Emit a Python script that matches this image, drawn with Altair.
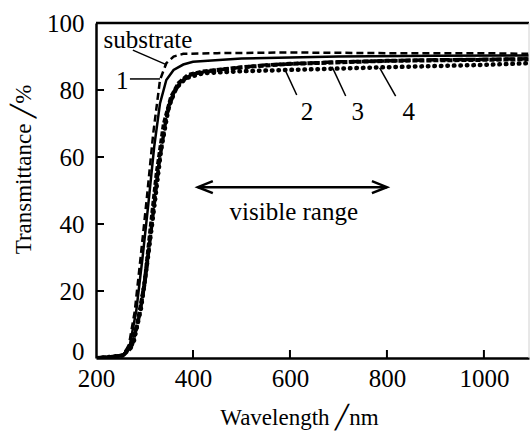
import altair as alt
import pandas as pd

# ---- data -------------------------------------------------------------
wl_sub = [200, 230, 256, 268, 280, 292, 305, 318, 332, 345, 360, 380, 450, 600, 800, 1000, 1095]
t_sub = [0, 0.3, 0.8, 4, 14, 30, 48, 67, 83, 88, 90, 90.8, 91, 91.2, 91, 91, 90.8]

wl_1 = [200, 230, 256, 270, 283, 296, 308, 320, 332, 345, 360, 380, 400, 500, 700, 900, 1095]
t_1 = [0, 0.3, 0.8, 4, 14, 30, 46, 63, 76, 83, 86, 87.6, 88.4, 89.4, 90, 90.2, 90.3]

wl_2 = [200, 230, 256, 272, 285, 300, 312, 325, 340, 355, 370, 390, 420, 500, 600, 800, 1000, 1095]
t_2 = [0, 0.3, 0.8, 3, 10, 22, 38, 55, 70, 78, 82, 84.5, 85.5, 86.8, 87.8, 88.7, 89, 89.2]

wl_3 = [200, 230, 256, 275, 290, 303, 316, 330, 345, 360, 375, 400, 450, 550, 700, 900, 1095]
t_3 = [0, 0.3, 0.8, 4, 13, 25, 41, 58, 72, 79, 82.5, 84.8, 86, 87.5, 88.4, 89, 89.3]

wl_4 = [200, 230, 256, 278, 293, 307, 320, 334, 350, 365, 385, 420, 500, 600, 800, 1000, 1095]
t_4 = [0, 0.3, 0.8, 5, 15, 30, 45, 62, 75, 80.5, 83.5, 85, 85.6, 86, 86.8, 87.5, 88]

series_names = ["substrate", "1", "2", "3", "4"]
series_wl = [wl_sub, wl_1, wl_2, wl_3, wl_4]
series_t = [t_sub, t_1, t_2, t_3, t_4]

x_ticks = [200, 400, 600, 800, 1000]
y_ticks = [0, 20, 40, 60, 80, 100]
x_inner_ticks = [400, 600, 800, 1000]
y_inner_ticks = [20, 40, 60, 80]

# annotation labels
label_text = ["substrate", "1", "2", "3", "4"]
label_x = [307, 254, 635, 740, 845]
label_y = [95, 82.7, 73.4, 73.4, 73.4]

# leader lines
lead_x = [276, 270, 590, 687, 785]
lead_y = [91.9, 83.3, 86.0, 86.9, 86.6]
lead_x2 = [346, 332, 614, 715, 818]
lead_y2 = [87.5, 83.3, 78.5, 78.2, 78.2]

# visible range arrow
arrow_x = [410]
arrow_x2 = [800]
arrow_y = [51]
range_text = ["visible range"]
range_x = [608]
range_y = [43.5]

X_DOMAIN = [200, 1093]
W, H = 433, 335
FONT = "Liberation Serif"

# ---- tables -------------------------------------------------------------
rows = []
for name, xs_, ys_ in zip(series_names, series_wl, series_t):
    for i, (a, b) in enumerate(zip(xs_, ys_)):
        rows.append({"series": name, "wl": a, "T": b, "order": i})
df = pd.DataFrame(rows)

xs = alt.Scale(domain=X_DOMAIN, nice=False, zero=False)
ys = alt.Scale(domain=[0, 100], nice=False, zero=False)

styles = {
    "substrate": dict(strokeDash=[7, 4], strokeWidth=2.5),
    "1": dict(strokeWidth=2.5),
    "2": dict(strokeDash=[5, 2], strokeWidth=4),
    "3": dict(strokeDash=[10, 3], strokeWidth=3.5),
    "4": dict(strokeDash=[0.5, 6], strokeWidth=4.5, strokeCap="round"),
}

base = alt.Chart(df)
layers = []

axes = alt.Chart(pd.DataFrame({"wl": [200], "T": [0]})).mark_point(opacity=0).encode(
    x=alt.X("wl:Q", scale=xs, title="Wavelength ╱nm",
            axis=alt.Axis(values=x_ticks, format="d", ticks=False, tickSize=0, grid=False,
                          labelPadding=8, labelFontSize=25, labelFont=FONT,
                          labelColor="black", domainColor="black", domainWidth=2.5,
                          titleFont=FONT, titleFontSize=23, titleFontWeight="normal",
                          titleColor="black", titleX=203, titleY=66,
                          titleBaseline="alphabetic", labelFlush=False)),
    y=alt.Y("T:Q", scale=ys, title="Transmittance ╱%",
            axis=alt.Axis(values=y_ticks, format="d", ticks=False, tickSize=0, grid=False,
                          labelPadding=12, labelFontSize=25, labelFont=FONT,
                          labelOffset={"condition": {"test": "datum.value == 0", "value": -7}, "value": 0},
                          labelColor="black", domainColor="black", domainWidth=2.5,
                          titleFont=FONT, titleFontSize=23, titleFontWeight="normal",
                          titleColor="black", titleX=-66, titleY=146,
                          titleBaseline="alphabetic", labelFlush=False)),
)
layers.append(axes)

for name in series_names:
    layers.append(
        base.transform_filter(alt.datum.series == name)
        .mark_line(color="black", clip=True, **styles[name])
        .encode(x=alt.X("wl:Q", scale=xs), y=alt.Y("T:Q", scale=ys), order="order:Q")
    )

# frame: top border and faint right border
layers.append(
    alt.Chart(pd.DataFrame({"T": [100]})).mark_rule(color="black", strokeWidth=2.5)
    .encode(y=alt.Y("T:Q", scale=ys), x=alt.value(0), x2=alt.value(W))
)
layers.append(
    alt.Chart(pd.DataFrame({"wl": [X_DOMAIN[1]]})).mark_rule(color="#d0d0d0", strokeWidth=1)
    .encode(x=alt.X("wl:Q", scale=xs), y=alt.value(0), y2=alt.value(H))
)

# inward ticks
layers.append(
    alt.Chart(pd.DataFrame({"wl": x_inner_ticks})).mark_rule(color="black", strokeWidth=2)
    .encode(x=alt.X("wl:Q", scale=xs), y=alt.value(H - 8), y2=alt.value(H))
)
layers.append(
    alt.Chart(pd.DataFrame({"T": y_inner_ticks})).mark_rule(color="black", strokeWidth=2)
    .encode(y=alt.Y("T:Q", scale=ys), x=alt.value(0), x2=alt.value(8))
)

# leader lines
lead_df = pd.DataFrame({"x": lead_x, "y": lead_y, "x2": lead_x2, "y2": lead_y2})
layers.append(
    alt.Chart(lead_df).mark_rule(color="black", strokeWidth=1.5)
    .encode(x=alt.X("x:Q", scale=xs), y=alt.Y("y:Q", scale=ys), x2="x2:Q", y2="y2:Q")
)

# labels
lab_df = pd.DataFrame({"text": label_text, "x": label_x, "y": label_y})
layers.append(
    alt.Chart(lab_df).mark_text(font=FONT, fontSize=25, color="black", align="center", baseline="middle")
    .encode(x=alt.X("x:Q", scale=xs), y=alt.Y("y:Q", scale=ys), text="text:N")
)

# visible range arrow
arr_df = pd.DataFrame({"x": arrow_x, "x2": arrow_x2, "y": arrow_y})
layers.append(
    alt.Chart(arr_df).mark_rule(color="black", strokeWidth=2.5)
    .encode(x=alt.X("x:Q", scale=xs), x2="x2:Q", y=alt.Y("y:Q", scale=ys))
)
layers.append(
    alt.Chart(arr_df).mark_point(shape="M1,-0.8L-1,0L1,0.8", size=225, filled=False,
                                 color="black", strokeWidth=2.5, xOffset=7.5, opacity=1)
    .encode(x=alt.X("x:Q", scale=xs), y=alt.Y("y:Q", scale=ys))
)
layers.append(
    alt.Chart(arr_df).mark_point(shape="M-1,-0.8L1,0L-1,0.8", size=225, filled=False,
                                 color="black", strokeWidth=2.5, xOffset=-7.5, opacity=1)
    .encode(x=alt.X("x2:Q", scale=xs), y=alt.Y("y:Q", scale=ys))
)
rt_df = pd.DataFrame({"text": range_text, "x": range_x, "y": range_y})
layers.append(
    alt.Chart(rt_df).mark_text(font=FONT, fontSize=25, color="black", align="center", baseline="middle")
    .encode(x=alt.X("x:Q", scale=xs), y=alt.Y("y:Q", scale=ys), text="text:N")
)

chart = (
    alt.layer(*layers)
    .properties(width=W, height=H, autosize=alt.AutoSizeParams(type="none"),
                padding={"left": 96, "top": 23, "right": 1, "bottom": 73},
                background="white")
    .configure_view(stroke=None)
)

chart.save("out.html", embed_options={"renderer": "svg", "actions": False})
